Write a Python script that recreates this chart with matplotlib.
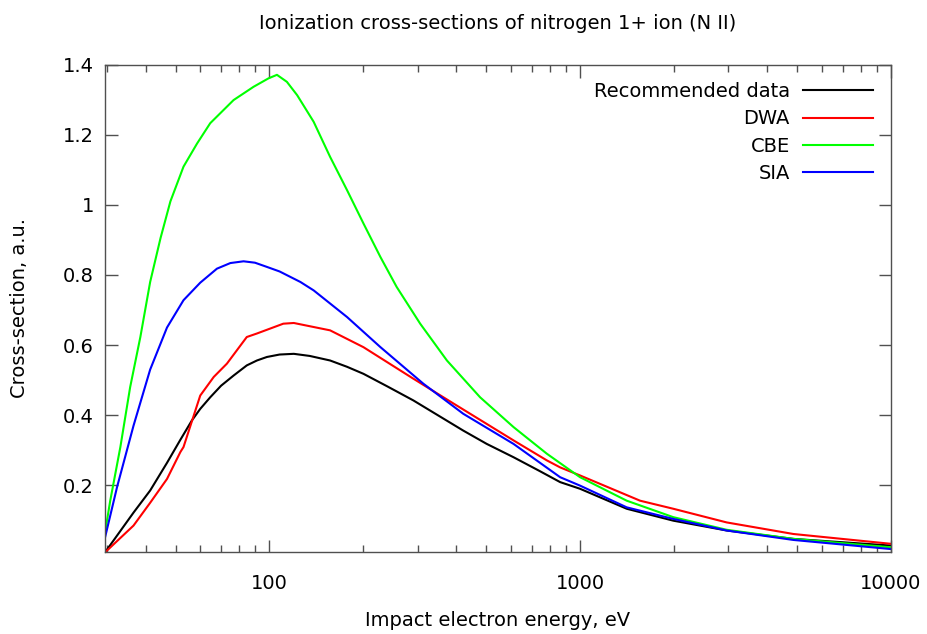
import numpy as np
import matplotlib.pyplot as plt
from matplotlib.ticker import FixedLocator, LogLocator, NullFormatter

# energies in eV, cross-sections in a.u.
E_rec = [29.6, 36.6, 41.4, 46.9, 51.8, 56.4, 60.0, 64.6, 70.0, 76.8, 84.7, 91.3, 98.3, 108, 120, 135, 157, 178, 201, 240, 291, 350, 421, 501, 611, 740, 863, 1000, 1413, 1995, 2963, 4856, 10000]
s_rec = [0.008, 0.122, 0.185, 0.264, 0.330, 0.385, 0.418, 0.451, 0.484, 0.513, 0.542, 0.556, 0.566, 0.573, 0.575, 0.569, 0.556, 0.538, 0.518, 0.482, 0.442, 0.399, 0.356, 0.318, 0.280, 0.241, 0.209, 0.190, 0.133, 0.099, 0.071, 0.047, 0.028]

E_dwa = [29.6, 36.6, 41.4, 46.9, 51.8, 53.0, 60.0, 66.3, 73.1, 84.7, 91.3, 111, 120, 157, 201, 291, 392, 501, 611, 782, 863, 1000, 1560, 1995, 2963, 4856, 10000]
s_dwa = [0.008, 0.085, 0.150, 0.218, 0.295, 0.309, 0.456, 0.509, 0.547, 0.623, 0.633, 0.661, 0.663, 0.642, 0.594, 0.504, 0.433, 0.375, 0.328, 0.271, 0.251, 0.228, 0.156, 0.133, 0.094, 0.061, 0.033]

E_cbe = [29.6, 30.8, 33.2, 35.7, 38.5, 41.4, 44.7, 48.1, 53.0, 58.6, 64.6, 76.8, 89.1, 99.5, 105.9, 114, 123, 139, 157, 178, 201, 228, 257, 306, 373, 477, 611, 782, 1000, 1413, 1995, 2963, 4856, 10000]
s_cbe = [0.062, 0.156, 0.309, 0.480, 0.623, 0.780, 0.905, 1.010, 1.109, 1.175, 1.233, 1.299, 1.337, 1.361, 1.371, 1.351, 1.313, 1.237, 1.137, 1.042, 0.947, 0.851, 0.766, 0.661, 0.556, 0.451, 0.366, 0.290, 0.223, 0.156, 0.109, 0.073, 0.047, 0.023]

E_sia = [29.6, 32.4, 36.6, 41.4, 46.9, 53.0, 60.0, 67.9, 75.0, 82.7, 90.0, 98.3, 108, 126, 139, 178, 228, 313, 421, 611, 863, 1000, 1413, 1995, 2963, 4856, 10000]
s_sia = [0.049, 0.195, 0.370, 0.530, 0.650, 0.728, 0.778, 0.818, 0.834, 0.839, 0.835, 0.823, 0.810, 0.780, 0.756, 0.680, 0.594, 0.490, 0.404, 0.318, 0.223, 0.199, 0.137, 0.104, 0.071, 0.044, 0.018]

fig = plt.figure(figsize=(9.28, 6.34), dpi=100)
ax = fig.add_axes([0.113, 0.129, 0.847, 0.769])

ax.plot(E_rec, s_rec, color="black", lw=1.5, label="Recommended data")
ax.plot(E_dwa, s_dwa, color="#ff0000", lw=1.5, label="DWA")
ax.plot(E_cbe, s_cbe, color="#00ff00", lw=1.5, label="CBE")
ax.plot(E_sia, s_sia, color="#0000ff", lw=1.5, label="SIA")

ax.set_xscale("log")
ax.set_xlim(29.6, 10000)
ax.set_ylim(0.009, 1.4)
ax.xaxis.set_major_locator(FixedLocator([100, 1000, 10000]))
ax.xaxis.set_major_formatter(plt.FuncFormatter(lambda v, p: "%d" % v))
ax.xaxis.set_minor_locator(LogLocator(base=10, subs=np.arange(2, 10)))
ax.xaxis.set_minor_formatter(NullFormatter())
ax.set_yticks([0.2, 0.4, 0.6, 0.8, 1.0, 1.2, 1.4])
ax.set_yticklabels(["0.2", "0.4", "0.6", "0.8", "1", "1.2", "1.4"])

fs = 14
ax.tick_params(which="both", direction="in", top=True, right=True, labelsize=fs, color="#505050")
ax.tick_params(axis="x", pad=16)
ax.tick_params(axis="y", pad=8)
ax.tick_params(which="major", length=9, width=1)
ax.tick_params(which="minor", length=5, width=1)
for s in ax.spines.values():
    s.set_color("#505050")
    s.set_linewidth(1)

ax.set_xlabel("Impact electron energy, eV", fontsize=fs, labelpad=13)
ax.set_ylabel("Cross-section, a.u.", fontsize=fs, labelpad=24)
ax.set_title("Ionization cross-sections of nitrogen 1+ ion (N II)", fontsize=fs, pad=26)

ax.legend(loc="upper right", frameon=False, markerfirst=False, fontsize=fs,
          handlelength=3.6, handletextpad=0.7, labelspacing=0.42,
          borderaxespad=0.5, alignment="right")

plt.savefig("out.png")
